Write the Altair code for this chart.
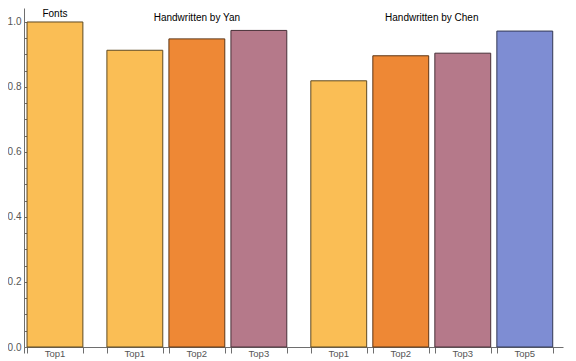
import altair as alt
import pandas as pd

# ---- data ----
groups = ["Fonts",
          "Handwritten by Yan", "Handwritten by Yan", "Handwritten by Yan",
          "Handwritten by Chen", "Handwritten by Chen", "Handwritten by Chen", "Handwritten by Chen"]
labels = ["Top1", "Top1", "Top2", "Top3", "Top1", "Top2", "Top3", "Top5"]
values = [1.0, 0.913, 0.948, 0.974, 0.819, 0.896, 0.904, 0.972]

group_names = ["Fonts", "Handwritten by Yan", "Handwritten by Chen"]
group_label_level = [1.015, 1.002, 1.002]

categories = ["Top1", "Top2", "Top3", "Top5"]
fill_colors = ["#FABE55", "#EE8835", "#B5798A", "#7E8DD3"]
edge_colors = ["#5f4a22", "#5f3615", "#483038", "#323854"]

major_ticks = [0.0, 0.2, 0.4, 0.6, 0.8, 1.0]
minor_ticks = [0.05, 0.1, 0.15, 0.25, 0.3, 0.35, 0.45, 0.5, 0.55,
               0.65, 0.7, 0.75, 0.85, 0.9, 0.95]

# ---- layout in bar-width units ----
BAR_W, GAP, GROUP_GAP = 1.0, 0.11, 0.43
starts = []
pos = 0.0
for i, g in enumerate(groups):
    if i > 0:
        pos += GAP if g == groups[i - 1] else GROUP_GAP
    starts.append(pos)
    pos += BAR_W

df = pd.DataFrame({
    "group": groups,
    "label": labels,
    "value": values,
    "zero": [0.0] * len(values),
    "x0": starts,
    "x1": [s + BAR_W for s in starts],
    "xc": [s + BAR_W / 2 for s in starts],
})

gl = []
for name, lvl in zip(group_names, group_label_level):
    sub = df[df.group == name]
    gl.append({"group": name, "xc": (sub.x0.min() + sub.x1.max()) / 2, "level": lvl})
gdf = pd.DataFrame(gl)

X_MIN, X_MAX = -0.054, 9.594
W, H = 539, 339
edge_ticks = [X_MIN] + sorted(list(df.x0) + list(df.x1))

FONT = "Liberation Sans"
AXIS_COL = "#6e6e6e"
LABEL_COL = "#555555"

x_scale = alt.Scale(domain=[X_MIN, X_MAX], nice=False, zero=False, padding=0)
y_scale = alt.Scale(domain=[0, 1.043], nice=False, zero=True, padding=0)
col_scale = alt.Scale(domain=categories, range=fill_colors)
edge_scale = alt.Scale(domain=categories, range=edge_colors)

x_axis = alt.Axis(orient="bottom", values=edge_ticks, labels=False, tickSize=6, title=None,
                  grid=False, domainColor=AXIS_COL, tickColor=AXIS_COL, domainWidth=1)

bars = alt.Chart(df).mark_bar(strokeWidth=1, orient="vertical").encode(
    x=alt.X("x0:Q", scale=x_scale, axis=x_axis),
    x2="x1:Q",
    y=alt.Y("value:Q", scale=y_scale,
            axis=alt.Axis(orient="left", values=major_ticks, format=".1f", ticks=False,
                          labelPadding=3, title=None, grid=False, domainColor=AXIS_COL,
                          labelColor=LABEL_COL, labelFont=FONT, labelFontSize=10)),
    y2="zero:Q",
    color=alt.Color("label:N", scale=col_scale, legend=None),
    stroke=alt.Stroke("label:N", scale=edge_scale, legend=None),
)

major_in = alt.Chart(df).mark_point(opacity=0).encode(
    x=alt.X("xc:Q", scale=x_scale, axis=x_axis),
    y=alt.Y("value:Q", scale=y_scale,
            axis=alt.Axis(orient="right", offset=-W, values=major_ticks, labels=False,
                          domain=False, tickSize=5, tickColor=AXIS_COL, title=None, grid=False)),
)

minor_in = alt.Chart(df).mark_point(opacity=0).encode(
    x=alt.X("xc:Q", scale=x_scale, axis=x_axis),
    y=alt.Y("value:Q", scale=y_scale,
            axis=alt.Axis(orient="right", offset=-W, values=minor_ticks, labels=False,
                          domain=False, tickSize=3, tickColor=AXIS_COL, title=None, grid=False)),
)

cat_text = alt.Chart(df).mark_text(dy=7, baseline="middle", fontSize=9.5, font=FONT,
                                   color=LABEL_COL).encode(
    x=alt.X("xc:Q", scale=x_scale, axis=x_axis),
    y=alt.Y("zero:Q", scale=y_scale, axis=None),
    text="label:N",
)

grp_text = alt.Chart(gdf).mark_text(baseline="alphabetic", fontSize=10, font=FONT,
                                    color="#000000").encode(
    x=alt.X("xc:Q", scale=x_scale, axis=x_axis),
    y=alt.Y("level:Q", scale=y_scale, axis=None),
    text="group:N",
)

chart = alt.layer(bars, major_in, minor_in, cat_text, grp_text).resolve_axis(
    y="independent"
).properties(
    width=W, height=H,
    autosize=alt.AutoSizeParams(type="none"),
    padding={"left": 16, "top": 0, "right": 5, "bottom": 14},
    background="white",
).configure_view(stroke=None)

chart.save("out.html", embed_options={"renderer": "svg", "actions": False})
